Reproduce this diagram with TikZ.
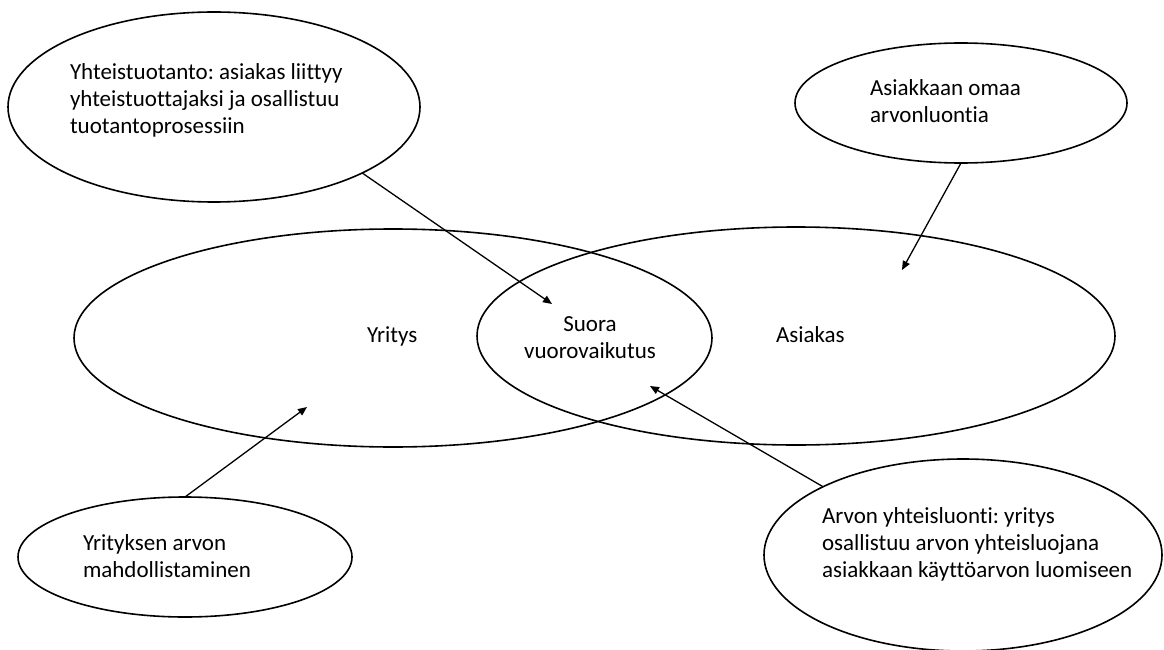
\documentclass[tikz,border=0pt]{standalone}
\usepackage{fontspec}
\setmainfont{Carlito}[Ligatures={NoCommon}]
\usetikzlibrary{shapes.geometric,arrows.meta}
\newcommand\mytopstrut{\rule{0pt}{18pt}}
\frenchspacing
\tikzset{
  oval/.style={ellipse, draw=black, line width=1.6pt, inner sep=0pt, outer sep=0pt},
  lbl/.style={font=\fontsize{23}{27}\selectfont, inner sep=0pt, outer sep=0pt, text=black},
  conn/.style={line width=1.3pt, draw=black, -{Triangle[length=9pt,width=7.5pt]}}
}
\begin{document}
\begin{tikzpicture}[x=1pt,y=-1pt]
\path[use as bounding box, fill=white] (0,0) rectangle (1164,650);

% big ellipses
\node[oval, minimum width=638pt, minimum height=218pt] (yr) at (393,338) {};
\node[oval, minimum width=638pt, minimum height=218pt] (as) at (796,336) {};

% callout ellipses
\node[oval, minimum width=412pt, minimum height=190pt] (tl) at (214,107) {};
\node[oval, minimum width=332pt, minimum height=120pt] (tr) at (961,103) {};
\node[oval, minimum width=334pt, minimum height=120pt] (bl) at (185,557) {};
\node[oval, minimum width=398pt, minimum height=192pt] (br) at (963,555) {};

% texts
\node[lbl, anchor=base west] (yrt) at (367,342) {Yritys};
\node[lbl, anchor=base west] (ast) at (776,342) {Asiakas};
\node[lbl, anchor=north, align=center] (sv) at (590,313) {\mytopstrut Suora\\vuorovaikutus};
\node[lbl, anchor=north west, align=left] (tlt) at (70,61)
  {\mytopstrut Yhteistuotanto: asiakas liittyy\\yhteistuottajaksi ja osallistuu\\tuotantoprosessiin};
\node[lbl, anchor=north west, align=left] (trt) at (870,78)
  {\mytopstrut Asiakkaan omaa\\arvonluontia};
\node[lbl, anchor=north west, align=left] (blt) at (83,532)
  {\mytopstrut Yrityksen arvon\\mahdollistaminen};
\node[lbl, anchor=north west, align=left] (brt) at (822,505)
  {\mytopstrut Arvon yhteisluonti: yritys\\osallistuu arvon yhteisluojana\\asiakkaan käyttöarvon luomiseen};

% arrow tips
\coordinate (e1) at (552,304);
\coordinate (e2) at (902,270);
\coordinate (e3) at (307,407);
\coordinate (e4) at (650,386);

% connectors
\draw[conn] (tl.-24.6) -- (e1);
\draw[conn] (tr.south) -- (e2);
\draw[conn] (bl.north) -- (e3);
\draw[conn] (br.154.3) -- (e4);
\end{tikzpicture}
\end{document}
